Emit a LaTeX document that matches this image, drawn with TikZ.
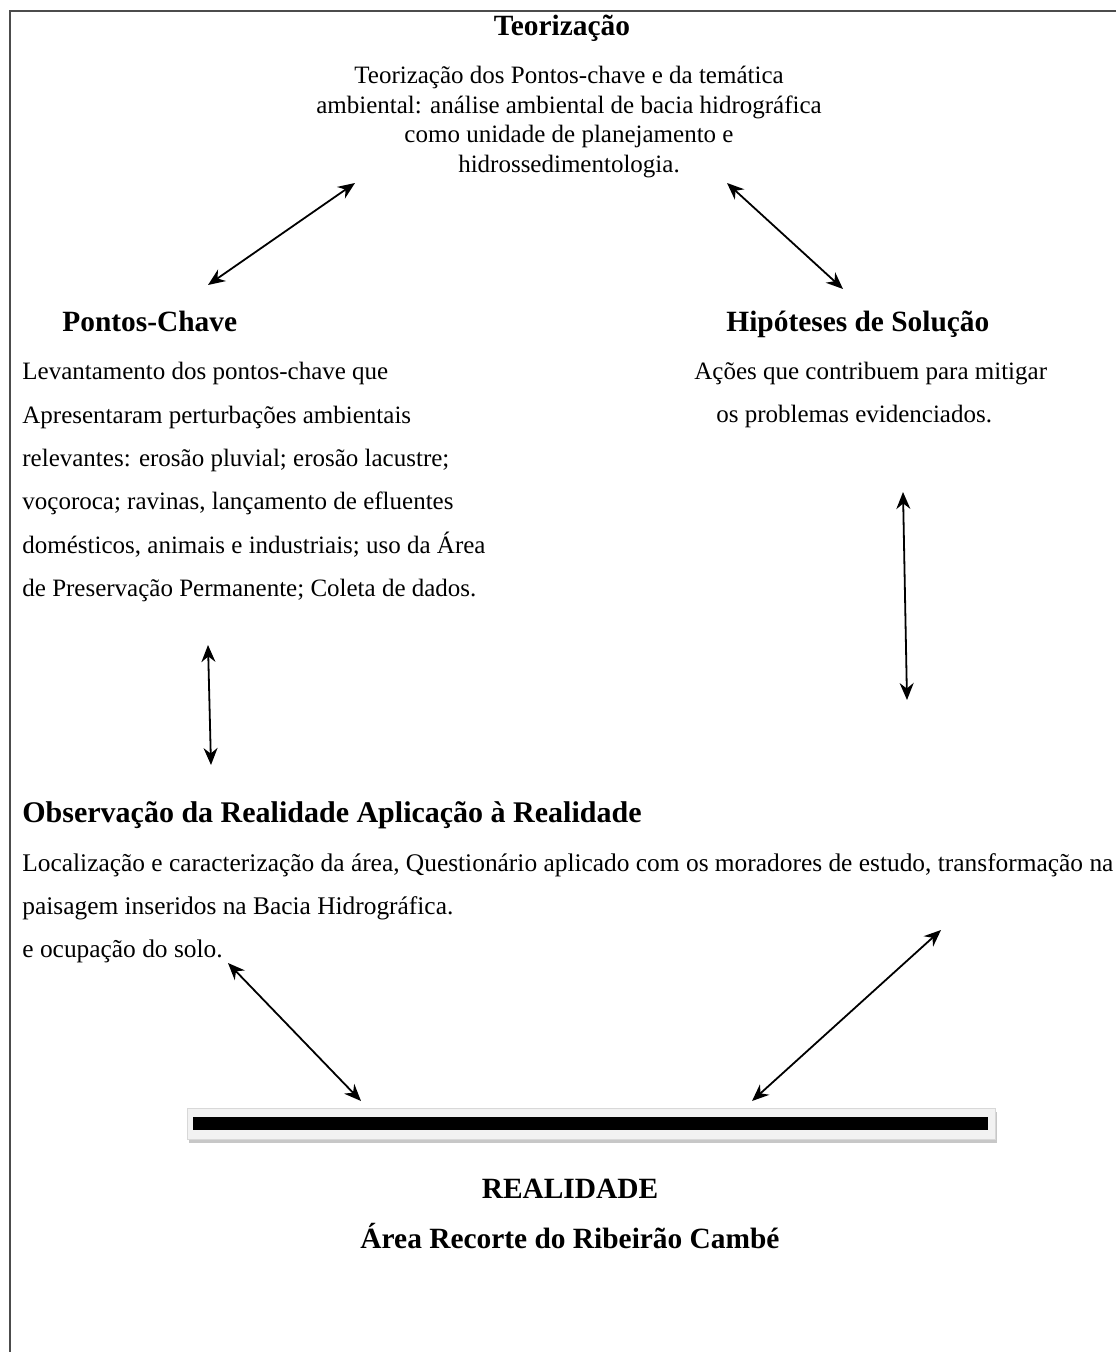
\documentclass[tikz,border=0pt]{standalone}
\usepackage{fontspec}
\setmainfont{Liberation Serif}
\usetikzlibrary{arrows.meta}
\definecolor{framegray}{rgb}{0.3, 0.3, 0.3}
\definecolor{barshade}{rgb}{0.78, 0.78, 0.78}
\definecolor{barfill}{rgb}{0.95, 0.95, 0.95}

\begin{document}
\begin{tikzpicture}[x=0.5pt, y=-0.5pt,
	twoway/.style={{Stealth[length=8.5pt,width=7pt]}-{Stealth[length=8.5pt,width=7pt]}, line width=0.9pt},
	head/.style={font=\bfseries\fontsize{14.7}{17}\selectfont}]
	\useasboundingbox (0,0) rectangle (1116,1352);
	\draw[framegray, line width=1.1pt] (1116,11) -- (10,11) -- (10,1352);

	\begin{scope}[every node/.style={inner sep=0, font=\fontsize{12.5}{14.75}\selectfont}]
	\node[head, anchor=base] (teo) at (562,36) {Teorização};
	\node[anchor=north, align=center] (teo text) at (569,66) {Teorização dos Pontos-chave e da temática\\ambiental: análise ambiental de bacia hidrográfica\\como unidade de planejamento e\\hidrossedimentologia.};

	\node[head, anchor=base west] (pc) at (62,332) {Pontos-Chave};
	\node[anchor=north west, align=left, font=\fontsize{12.5}{21.7}\selectfont] (pc text) at (22,362) {Levantamento dos pontos-chave que\\Apresentaram perturbações ambientais\\relevantes: erosão pluvial; erosão lacustre;\\voçoroca; ravinas, lançamento de efluentes\\domésticos, animais e industriais; uso da Área\\de Preservação Permanente; Coleta de dados.};

	\node[head, anchor=base west] (hs) at (726,332) {Hipóteses de Solução};
	\node[anchor=north west, align=left, font=\fontsize{12.5}{21.5}\selectfont] (hs text) at (694,362) {Ações que contribuem para mitigar\\\hspace*{11pt}os problemas evidenciados.};

	\node[head, anchor=base west, font=\bfseries\fontsize{15}{17}\selectfont] (obs) at (22,822) {Observação da Realidade Aplicação à Realidade};
	\node[anchor=north west, align=left, font=\fontsize{12.7}{21.5}\selectfont] (obs text) at (22,853) {Localização e caracterização da área, Questionário aplicado com os moradores de estudo, transformação na\\paisagem inseridos na Bacia Hidrográfica.\\e ocupação do solo.};

	\node[fill=barshade, minimum width=404pt, minimum height=15.5pt] (bar shade) at (593,1127) {};
	\node[draw=barshade!70, fill=barfill, minimum width=404pt, minimum height=15.5pt] (bar) at (591,1124) {};
	\node[fill=black, minimum width=397.5pt, minimum height=6.5pt] (bar core) at (590.5,1123.5) {};

	\node[head, anchor=base] (real) at (570,1198) {REALIDADE};
	\node[head, anchor=base] (area) at (570,1248) {Área Recorte do Ribeirão Cambé};
	\end{scope}

	% arrow ends
	\coordinate (pc top) at (208,285);
	\coordinate (teo left) at (355,183);
	\coordinate (teo right) at (727,183);
	\coordinate (hs top) at (843,289);
	\coordinate (hs low) at (903,492);
	\coordinate (app up) at (907,700);
	\coordinate (pc low) at (208,645);
	\coordinate (obs up) at (211,765);
	\coordinate (obs low) at (228,963);
	\coordinate (bar left) at (361,1101);
	\coordinate (app low) at (941,930);
	\coordinate (bar right) at (752,1101);

	\draw[twoway] (pc top) to (teo left);
	\draw[twoway] (teo right) to (hs top);
	\draw[twoway] (hs low) to (app up);
	\draw[twoway] (pc low) to (obs up);
	\draw[twoway] (obs low) to (bar left);
	\draw[twoway] (app low) to (bar right);
\end{tikzpicture}
\end{document}
